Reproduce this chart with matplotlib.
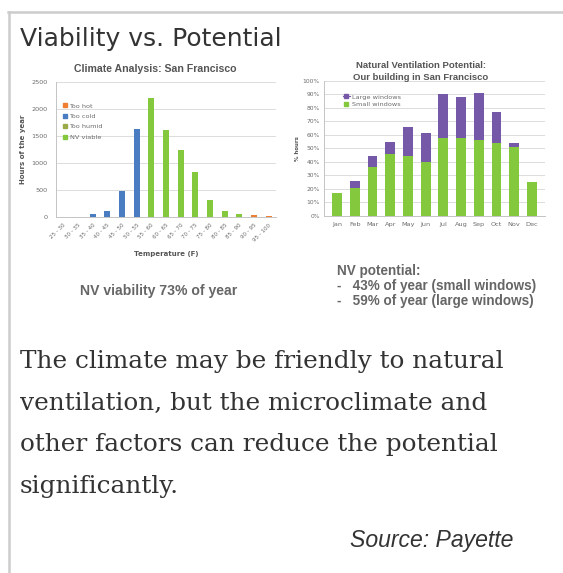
import matplotlib
matplotlib.use("Agg")
import matplotlib.pyplot as plt
from matplotlib.lines import Line2D
import numpy as np

W, H = 563, 573

# ---- Climate analysis data (hours of the year per temperature bin) ----
temp_bins = ["25 - 30", "30 - 35", "35 - 40", "40 - 45", "45 - 50", "50 - 55",
             "55 - 60", "60 - 65", "65 - 70", "70 - 75", "75 - 80", "80 - 85",
             "85 - 90", "90 - 95", "95 - 100"]
hours = [0, 5, 60, 110, 480, 1630, 2200, 1610, 1240, 840, 310, 110, 50, 35, 10]
bin_class = ["Too cold"] * 6 + ["NV viable"] * 7 + ["Too hot"] * 2
climate_series = ["Too hot", "Too cold", "Too humid", "NV viable"]
climate_colors = {"Too hot": "#ee7f33", "Too cold": "#4a7cc2",
                  "Too humid": "#9aaa4a", "NV viable": "#84c83e"}

# ---- Natural ventilation potential data (% of hours per month) ----
months = ["Jan", "Feb", "Mar", "Apr", "May", "Jun",
          "Jul", "Aug", "Sep", "Oct", "Nov", "Dec"]
small_windows = [17, 21, 36, 46, 44, 40, 58, 58, 56, 54, 51, 25]
large_windows = [17, 26, 44, 55, 66, 61, 90, 88, 91, 77, 54, 25]

viability_text = "NV viability 73% of year"
potential_lines = ["NV potential:",
                   "-   43% of year (small windows)",
                   "-   59% of year (large windows)"]

body_lines = ["The climate may be friendly to natural",
              "ventilation, but the microclimate and",
              "other factors can reduce the potential",
              "significantly."]


def fx(x):
    return x / W


def fy(y):
    return 1 - y / H


def pt(px):
    return px * 72 / 100


fig = plt.figure(figsize=(W / 100, H / 100), dpi=100)
fig.patch.set_facecolor("white")

# card border (top and left)
fig.add_artist(Line2D([fx(8), 1.0], [fy(12), fy(12)], color="#cccccc", lw=pt(2.5)))
fig.add_artist(Line2D([fx(9), fx(9)], [fy(12), 0.0], color="#cccccc", lw=pt(2.5)))

fig.text(fx(20), fy(46), "Viability vs. Potential", fontsize=pt(25),
         color="#333333", family="DejaVu Sans", va="baseline")

chart_text = "#6b6b6b"
title_col = "#555555"
grid_col = "#dcdcdc"
spine_col = "#c4c4c4"

# ---- left chart: hours per temperature bin ----
ax1 = fig.add_axes([fx(56), fy(217), fx(276) - fx(56), fy(82) - fy(217)])
x1 = np.arange(len(temp_bins))
for s in climate_series:
    vals = [h if c == s else 0 for h, c in zip(hours, bin_class)]
    ax1.bar(x1, vals, width=0.42, color=climate_colors[s], label=s, zorder=3)
ax1.set_xlim(-0.5, len(temp_bins) - 0.5)
ax1.set_ylim(0, 2500)
ax1.set_yticks(np.arange(0, 2501, 500))
ax1.set_xticks(x1)
ax1.set_xticklabels(temp_bins, rotation=45, ha="right", rotation_mode="anchor")
ax1.tick_params(axis="y", length=0, labelsize=pt(6.5), labelcolor=chart_text, pad=6)
ax1.tick_params(axis="x", length=0, labelsize=pt(5.5), labelcolor=chart_text, pad=4)
ax1.grid(axis="y", color=grid_col, lw=0.7, zorder=0)
for side in ["top", "right"]:
    ax1.spines[side].set_visible(False)
for side in ["left", "bottom"]:
    ax1.spines[side].set_color(spine_col)
    ax1.spines[side].set_linewidth(0.7)
fig.text(fx(155), fy(69), "Climate Analysis: San Francisco", fontsize=pt(10.5),
         color=title_col, fontweight="bold", family="Liberation Sans",
         ha="center", va="center")
ax1.set_ylabel("Hours of the year", fontsize=pt(7), color=title_col,
               fontweight="bold", labelpad=4)
ax1.set_xlabel("Temperature (F)", fontsize=pt(7), color=title_col,
               fontweight="bold", labelpad=6)
handles1 = [Line2D([], [], marker="s", ls="", ms=2.5, color=climate_colors[s]) for s in climate_series]
ax1.legend(handles1, climate_series, loc="upper left", bbox_to_anchor=(fx(63), fy(103)),
           bbox_transform=fig.transFigure, frameon=False, fontsize=pt(6.5),
           labelcolor=chart_text, handlelength=0.6, handletextpad=0.4, labelspacing=0.75,
           borderaxespad=0, borderpad=0)

fig.text(fx(159), fy(291), viability_text, fontsize=pt(14), color="#666666",
         fontweight="bold", family="Liberation Sans", ha="center", va="center")

# ---- right chart: monthly potential ----
ax2 = fig.add_axes([fx(324), fy(216), fx(545) - fx(324), fy(80.7) - fy(216)])
x2 = np.arange(len(months))
extra = [l - s for l, s in zip(large_windows, small_windows)]
ax2.bar(x2, small_windows, width=0.55, color="#84c83e", zorder=3)
ax2.bar(x2, extra, bottom=small_windows, width=0.55, color="#7558a8", zorder=3)
ax2.set_xlim(-0.75, len(months) - 0.25)
ax2.set_ylim(0, 100)
ax2.set_yticks(np.arange(0, 101, 10))
ax2.set_yticklabels([f"{v}%" for v in range(0, 101, 10)])
ax2.set_xticks(x2)
ax2.set_xticklabels(months)
ax2.tick_params(axis="y", length=0, labelsize=pt(6), labelcolor=chart_text, pad=3)
ax2.tick_params(axis="x", length=0, labelsize=pt(6.5), labelcolor=chart_text, pad=4)
ax2.grid(axis="y", color=grid_col, lw=0.7, zorder=0)
for side in ["top", "right"]:
    ax2.spines[side].set_visible(False)
for side in ["left", "bottom"]:
    ax2.spines[side].set_color(spine_col)
    ax2.spines[side].set_linewidth(0.7)
fig.text(fx(421), fy(65), "Natural Ventilation Potential:", fontsize=pt(9.5),
         color=title_col, fontweight="bold", family="Liberation Sans",
         ha="center", va="center")
fig.text(fx(421), fy(77), "Our building in San Francisco", fontsize=pt(9.5),
         color=title_col, fontweight="bold", family="Liberation Sans",
         ha="center", va="center")
ax2.set_ylabel("% hours", fontsize=pt(5.5), color=title_col, fontweight="bold", labelpad=2)
handles2 = [Line2D([], [], marker="s", ls="-", lw=0.8, ms=2.5, color="#7558a8"),
            Line2D([], [], marker="s", ls="", ms=2.5, color="#84c83e")]
ax2.legend(handles2, ["Large windows", "Small windows"], loc="upper left",
           bbox_to_anchor=(fx(343), fy(94)), bbox_transform=fig.transFigure,
           frameon=False, fontsize=pt(6.5), labelcolor=chart_text, handlelength=1.0,
           handletextpad=0.4, labelspacing=0.3, borderaxespad=0, borderpad=0)

for i, line in enumerate(potential_lines):
    fig.text(fx(337), fy(271 + 15 * i), line, fontsize=pt(13.5), color="#666666",
             fontweight="bold", family="Liberation Sans", va="center")

# ---- body text ----
for i, line in enumerate(body_lines):
    fig.text(fx(20), fy(368 + 41.5 * i), line, fontsize=pt(24.7), color="#333333",
             family="DejaVu Serif", va="baseline")

fig.text(fx(350), fy(547), "Source: Payette", fontsize=pt(23), color="#333333",
         family="Liberation Sans", style="italic", va="baseline")

fig.savefig("out.png", dpi=100, facecolor="white")
